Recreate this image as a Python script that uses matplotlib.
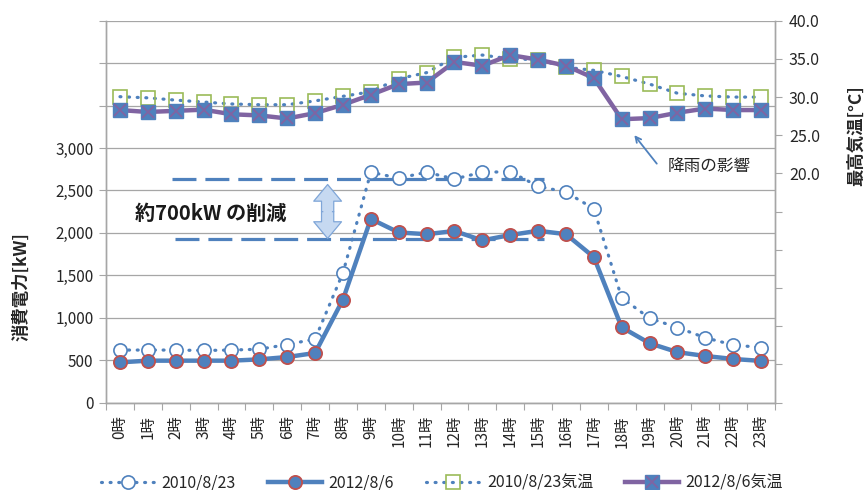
import matplotlib

matplotlib.use("Agg")
import matplotlib.pyplot as plt
from matplotlib.legend_handler import HandlerTuple
from matplotlib.patches import FancyArrowPatch
from matplotlib.ticker import FixedLocator, FuncFormatter

plt.rcParams["font.family"] = ["Noto Sans CJK JP", "DejaVu Sans"]

hours = [f"{h}時" for h in range(24)]

power_2010 = [620, 620, 620, 615, 620, 630, 685, 750, 1530, 2715, 2645, 2715, 2635, 2715, 2720,
              2550, 2480, 2285, 1235, 995, 885, 765, 680, 650]
power_2012 = [475, 495, 495, 495, 495, 510, 538, 585, 1215, 2165, 2005, 1985, 2022, 1912, 1975,
              2025, 1985, 1715, 888, 700, 595, 550, 515, 492]
temp_2010 = [30.05, 29.9, 29.6, 29.35, 29.1, 29.0, 29.0, 29.5, 30.1, 30.7, 32.4, 33.2, 35.2, 35.5,
             35.0, 34.9, 33.9, 33.5, 32.7, 31.7, 30.5, 30.15, 30.0, 30.0]
temp_2012 = [28.3, 28.05, 28.2, 28.35, 27.75, 27.6, 27.2, 27.9, 29.0, 30.3, 31.7, 31.9, 34.6, 34.1,
             35.5, 34.9, 34.1, 32.5, 27.1, 27.25, 27.95, 28.5, 28.3, 28.3]
series_names = ["2010/8/23", "2012/8/6", "2010/8/23気温", "2012/8/6気温"]

BLUE = "#4F81BD"
RED = "#C0504D"
GREEN = "#9BBB59"
PURPLE = "#8064A2"
GRID = "#A6A6A6"
TEXT = "#262626"

fig = plt.figure(figsize=(8.67, 4.9), dpi=100)
ax = fig.add_axes([0.1223, 0.1782, 0.7716, 0.7796])
ax2 = ax.twinx()

x = list(range(len(hours)))

# power (left axis)
dotted = (0, (0.3, 2.4))
(l2010,) = ax.plot(x, power_2010, color=BLUE, lw=2.3, linestyle=dotted, dash_capstyle="round",
                   marker="o", ms=9.5, mfc="white", mec=BLUE, mew=1.2, zorder=3)
(l2012,) = ax.plot(x, power_2012, color=BLUE, lw=3.2, marker="o", ms=9.5, mfc=BLUE, mec=RED,
                   mew=1.3, zorder=4)

# temperature (right axis)
(t2010,) = ax2.plot(x, temp_2010, color=BLUE, lw=2.3, linestyle=dotted, dash_capstyle="round",
                    marker="s", ms=10, mfc="none", mec=GREEN, mew=1.2, zorder=3)
(t2012,) = ax2.plot(x, temp_2012, color=PURPLE, lw=3.2, marker="s", ms=10, mfc=BLUE, mec=BLUE,
                    zorder=4)
(t2012x,) = ax2.plot(x, temp_2012, linestyle="none", marker="x", ms=9, mec=PURPLE, mew=1.3,
                     zorder=5)

# left axis
ax.set_xlim(-0.5, 23.5)
ax.set_ylim(0, 4500)
ax.yaxis.set_major_locator(FixedLocator(range(0, 4501, 500)))
ax.yaxis.set_major_formatter(FuncFormatter(lambda v, p: f"{int(v):,}" if v <= 3000 else ""))
ax.grid(axis="y", color=GRID, lw=0.9)
ax.set_axisbelow(True)
ax.tick_params(axis="y", length=5, color=GRID, labelsize=11, labelcolor=TEXT, pad=4)

ax.xaxis.set_major_locator(FixedLocator([i - 0.5 for i in range(25)]))
ax.xaxis.set_major_formatter(FuncFormatter(lambda v, p: ""))
ax.xaxis.set_minor_locator(FixedLocator(x))
ax.set_xticklabels(hours, minor=True, rotation=90, fontsize=11, color=TEXT, va="top")
ax.tick_params(axis="x", which="major", length=5, color=GRID)
ax.tick_params(axis="x", which="minor", length=0, pad=9)

ax.set_ylabel("消費電力[kW]", fontsize=12.5, fontweight="bold", color=TEXT)
ax.yaxis.set_label_coords(-0.113, 0.305)

# right axis
ax2.set_ylim(-10, 40)
ax2.yaxis.set_major_locator(FixedLocator(range(-10, 41, 5)))
ax2.yaxis.set_major_formatter(FuncFormatter(lambda v, p: f"{v:.1f}" if v >= 20 else ""))
ax2.tick_params(axis="y", length=5, color=GRID, labelsize=11.5, labelcolor=TEXT, pad=5)
ax2.set_ylabel("最高気温[°C]", fontsize=12.5, fontweight="bold", color=TEXT, rotation=90)
ax2.yaxis.set_label_coords(1.108, 0.70)

for a in (ax, ax2):
    a.spines["top"].set_visible(False)
    for side in ("left", "right", "bottom"):
        a.spines[side].set_color(GRID)
        a.spines[side].set_linewidth(1.0)

# reduction annotation
dash_kw = dict(color=BLUE, lw=2.3, linestyle=(0, (7.5, 2.8)), zorder=2)
ax.plot([1.86, 15.2], [2640, 2640], **dash_kw)
ax.plot([1.97, 15.2], [1925, 1925], **dash_kw)
ax.text(0.55, 2235, "約700kW の削減", fontsize=14.5, fontweight="bold", color="#1a1a1a",
        ha="left", va="center")
arrow_kw = dict(arrowstyle="simple,head_length=0.75,head_width=1.25,tail_width=0.55",
                mutation_scale=16, shrinkA=0, shrinkB=0, fc="#C6D9F1", ec="#7FA6D8",
                lw=0.9, zorder=3)
ax.add_patch(FancyArrowPatch((7.45, 2250), (7.45, 2570), **arrow_kw))
ax.add_patch(FancyArrowPatch((7.45, 2250), (7.45, 1935), **arrow_kw))
# cover the seam where both halves meet
ax.add_patch(FancyArrowPatch((7.45, 2215), (7.45, 2285),
                             arrowstyle="-", lw=6.2, color="#C6D9F1", zorder=3.5,
                             shrinkA=0, shrinkB=0))

# rain annotation
ax2.annotate("", xy=(18.39, 25.3), xytext=(19.32, 21.0),
             arrowprops=dict(arrowstyle="->", color=BLUE, lw=1.3))
ax2.text(19.64, 20.85, "降雨の影響", fontsize=12, color=TEXT, ha="left", va="center")

fig.legend([l2010, l2012, t2010, (t2012, t2012x)], series_names,
           handler_map={tuple: HandlerTuple(ndivide=1)},
           loc="center", bbox_to_anchor=(0.51, 0.015), ncol=4, frameon=False,
           fontsize=11.5, handlelength=3.4, columnspacing=2.0, handletextpad=0.4,
           labelcolor=TEXT)

fig.savefig("out.png", dpi=100)
